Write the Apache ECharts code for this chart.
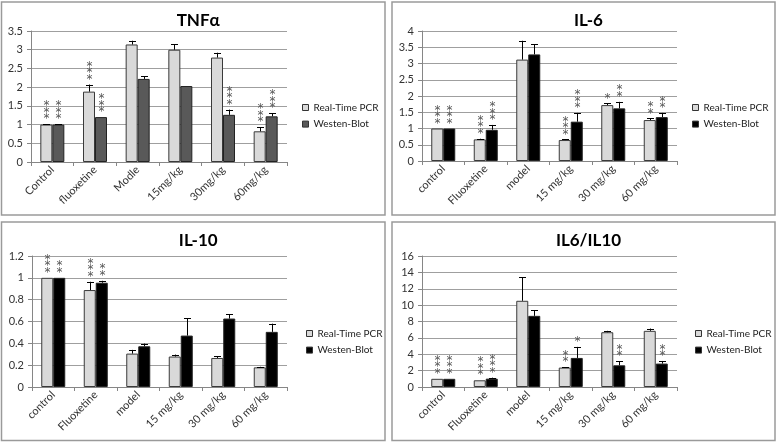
<!DOCTYPE html>
<html><head><meta charset="utf-8">
<script src="https://cdn.jsdelivr.net/npm/echarts@6/dist/echarts.min.js"></script>
<style>html,body{margin:0;padding:0;background:#fff}#c{width:778px;height:444px}</style>
</head><body><div id="c"></div>
<script>
// ---- data ----
const titles = ['TNFα', 'IL-6', 'IL-10', 'IL6/IL10'];
const seriesNames = ['Real-Time PCR', 'Westen-Blot'];
const catsTNF = ['Control', 'fluoxetine', 'Modle', '15mg/kg', '30mg/kg', '60mg/kg'];
const catsIL = ['control', 'Fluoxetine', 'model', '15 mg/kg', '30 mg/kg', '60 mg/kg'];

const tnfPCR = [1.0, 1.88, 3.14, 3.0, 2.79, 0.82];
const tnfPCRErr = [0.01, 0.19, 0.10, 0.14, 0.13, 0.11];
const tnfPCRStars = [3, 3, 0, 0, 0, 3];
const tnfWB = [1.0, 1.2, 2.22, 2.03, 1.26, 1.22];
const tnfWBErr = [0.01, 0, 0.07, 0, 0.14, 0.08];
const tnfWBStars = [3, 3, 0, 0, 3, 3];

const il6PCR = [1.0, 0.665, 3.12, 0.645, 1.72, 1.26];
const il6PCRErr = [0, 0.02, 0.58, 0.02, 0.05, 0.05];
const il6PCRStars = [3, 3, 0, 3, 1, 2];
const il6WB = [1.0, 0.96, 3.28, 1.21, 1.62, 1.35];
const il6WBErr = [0, 0.15, 0.32, 0.27, 0.2, 0.13];
const il6WBStars = [3, 3, 0, 3, 2, 2];

const il10PCR = [1.0, 0.888, 0.306, 0.279, 0.266, 0.18];
const il10PCRErr = [0, 0.076, 0.034, 0.018, 0.016, 0.005];
const il10PCRStars = [3, 3, 0, 0, 0, 0];
const il10WB = [1.0, 0.955, 0.373, 0.471, 0.627, 0.505];
const il10WBErr = [0, 0.018, 0.025, 0.16, 0.04, 0.075];
const il10WBStars = [2, 2, 0, 0, 0, 0];

const ratioPCR = [1.0, 0.82, 10.53, 2.37, 6.69, 6.86];
const ratioPCRErr = [0, 0, 2.86, 0.05, 0.17, 0.28];
const ratioPCRStars = [3, 3, 0, 2, 0, 0];
const ratioWB = [1.0, 1.02, 8.69, 3.55, 2.65, 2.86];
const ratioWBErr = [0, 0.12, 0.7, 1.35, 0.49, 0.32];
const ratioWBStars = [3, 3, 0, 1, 2, 2];

const yMax = [3.5, 4, 1.2, 16];
const yInterval = [0.5, 0.5, 0.2, 2];

// ---- layout / style ----
const FONT = 'Lato, "Open Sans", sans-serif';
const panels = [
  {box: [1.5, 2, 383.5, 213], grid: {left: 31, top: 31, width: 256, height: 131}, legend: {left: 302, top: 102.5}},
  {box: [392, 2, 383, 213], grid: {left: 422, top: 31, width: 255, height: 130}, legend: {left: 692, top: 102.5}},
  {box: [1.5, 222, 383.5, 218.5], grid: {left: 32, top: 256, width: 255, height: 131}, legend: {left: 306, top: 328.5}},
  {box: [392, 222, 383, 218.5], grid: {left: 422, top: 256, width: 255, height: 131}, legend: {left: 695, top: 328.5}}
];
const pcrColor = '#d9d9d9';
const wbColors = ['#595959', '#000000', '#000000', '#000000'];
const BW = 12;

const allData = [
  [catsTNF, tnfPCR, tnfPCRErr, tnfPCRStars, tnfWB, tnfWBErr, tnfWBStars],
  [catsIL, il6PCR, il6PCRErr, il6PCRStars, il6WB, il6WBErr, il6WBStars],
  [catsIL, il10PCR, il10PCRErr, il10PCRStars, il10WB, il10WBErr, il10WBStars],
  [catsIL, ratioPCR, ratioPCRErr, ratioPCRStars, ratioWB, ratioWBErr, ratioWBStars]
];

function renderErr(params, api) {
  const cat = api.value(0), val = api.value(1), err = api.value(2), stars = api.value(3), side = api.value(4);
  const base = api.coord([cat, val]);
  const top = api.coord([cat, val + err]);
  const x = Math.round(base[0] + side * BW / 2) + 0.5;
  const children = [];
  if (err > 0) {
    children.push({type: 'line', shape: {x1: x, y1: base[1], x2: x, y2: top[1]}, style: {stroke: '#000', lineWidth: 1}});
    children.push({type: 'line', shape: {x1: x - 3.5, y1: Math.round(top[1]) + 0.5, x2: x + 3.5, y2: Math.round(top[1]) + 0.5}, style: {stroke: '#000', lineWidth: 1}});
  }
  for (let i = 0; i < stars; i++) {
    children.push({type: 'text', x: x, y: top[1] - 5 - i * 6.5,
      style: {text: '*', fill: '#555', font: '12px "DejaVu Sans"', textAlign: 'center', textVerticalAlign: 'middle'}});
  }
  return {type: 'group', children: children};
}

const option = {
  backgroundColor: '#fff',
  animation: false,
  title: [], grid: [], xAxis: [], yAxis: [], series: [], legend: [],
  graphic: []
};

panels.forEach((p, k) => {
  const d = allData[k];
  option.graphic.push({type: 'rect', shape: {x: p.box[0], y: p.box[1], width: p.box[2], height: p.box[3]},
    style: {fill: 'none', stroke: '#9a9a9a', lineWidth: 1.5}, silent: true, z: 0});
  option.title.push({text: titles[k], left: p.box[0] + p.box[2] / 2, textAlign: 'center', top: p.box[1] + 5,
    textStyle: {fontFamily: FONT, fontSize: 17, fontWeight: 'bold', color: '#000'}});
  option.grid.push(Object.assign({containLabel: false}, p.grid));
  option.xAxis.push({type: 'category', gridIndex: k, data: d[0],
    axisLine: {lineStyle: {color: '#868686'}},
    axisTick: {show: true, length: 4, lineStyle: {color: '#868686'}},
    axisLabel: {rotate: 45, fontFamily: FONT, fontSize: 11, color: '#333', margin: 6, interval: 0},
    splitLine: {show: false}});
  option.yAxis.push({type: 'value', gridIndex: k, min: 0, max: yMax[k], interval: yInterval[k],
    axisLine: {show: true, lineStyle: {color: '#868686'}},
    axisTick: {show: true, length: 4, lineStyle: {color: '#868686'}},
    axisLabel: {fontFamily: FONT, fontSize: 11, color: '#333', margin: 8},
    splitLine: {lineStyle: {color: '#9f9f9f', width: 1}}});
  option.series.push({type: 'bar', name: seriesNames[0], xAxisIndex: k, yAxisIndex: k, data: d[1],
    barWidth: BW, barGap: '0%', itemStyle: {color: pcrColor, borderColor: '#3a3a3a', borderWidth: 1}});
  option.series.push({type: 'bar', name: seriesNames[1], xAxisIndex: k, yAxisIndex: k, data: d[4],
    barWidth: BW, barGap: '0%', itemStyle: {color: wbColors[k], borderColor: '#222', borderWidth: 1}});
  const errData = [];
  d[0].forEach((c, i) => {
    errData.push([i, d[1][i], d[2][i], d[3][i], -1]);
    errData.push([i, d[4][i], d[5][i], d[6][i], 1]);
  });
  option.series.push({type: 'custom', name: 'err' + k, xAxisIndex: k, yAxisIndex: k, data: errData,
    renderItem: renderErr, clip: false, z: 5, silent: true});
  option.legend.push({orient: 'vertical', left: p.legend.left, top: p.legend.top, selectedMode: false,
    padding: 0, itemWidth: 6, itemHeight: 6, itemGap: 6.6, itemTextGap: 2, icon: 'rect',
    textStyle: {fontFamily: FONT, fontSize: 10, color: '#222'},
    data: [{name: seriesNames[0], itemStyle: {color: pcrColor, borderColor: '#333', borderWidth: 1}},
           {name: seriesNames[1], itemStyle: {color: wbColors[k], borderColor: '#333', borderWidth: 1}}]});
});

const chart = echarts.init(document.getElementById('c'), null, {renderer: 'canvas'});
chart.setOption(option);
</script>
</body></html>
